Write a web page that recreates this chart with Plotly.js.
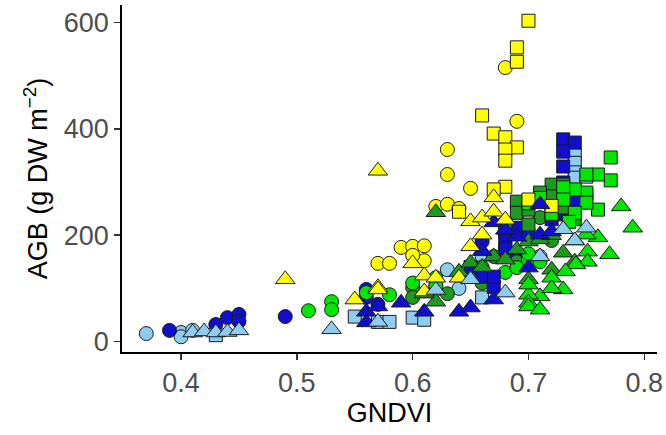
<!DOCTYPE html>
<html>
<head>
<meta charset="utf-8">
<script src="https://cdn.plot.ly/plotly-3.0.1.min.js"></script>
<style>html,body{margin:0;padding:0;background:#fff;}#chart{width:666px;height:435px;}</style>
</head>
<body>
<div id="chart"></div>
<script>
// Yellow group
const yellowCircleX = [0.68,0.69,0.63,0.63,0.65,0.62,0.63,0.59,0.60,0.61,0.61,0.57,0.58,0.60,0.64];
const yellowCircleY = [515,414,361,314,288,254,258,177,179,180,152,147,147,162,250];
const yellowSquareX = [0.70,0.69,0.69,0.66,0.67,0.68,0.69,0.68,0.68,0.68,0.67,0.64,0.70,0.72];
const yellowSquareY = [603,553,526,425,391,384,365,361,340,291,286,244,267,255];
const yellowTriX = [0.49,0.57,0.55,0.57,0.60,0.61,0.61,0.64,0.65,0.65,0.66,0.66,0.67,0.67,0.68,0.57,0.62];
const yellowTriY = [117,321,79,102,147,124,94,120,179,226,233,201,271,244,229,98,120];
// Bright green group
const limeCircleX = [0.51,0.53,0.53,0.58,0.62,0.62,0.68,0.69,0.70,0.56,0.60,0.64,0.66,0.70,0.71];
const limeCircleY = [58,75,60,88,120,104,130,139,154,92,110,125,140,165,150];
const limeSquareX = [0.771,0.771,0.76,0.76,0.75,0.75,0.75,0.74,0.74,0.73,0.73,0.72,0.70,0.71,0.735];
const limeSquareY = [346,303,314,248,314,280,261,286,242,290,267,240,260,270,225];
const limeTriX = [0.78,0.79,0.76,0.77,0.751,0.751,0.741,0.732,0.73,0.75,0.71,0.70,0.70,0.70,0.70,0.72,0.74,0.71,0.72];
const limeTriY = [254,214,196,164,169,150,145,132,98,201,85,88,73,66,107,120,190,60,100];
// Dark green group
const dgreenCircleX = [0.60,0.60,0.63,0.65,0.66,0.68,0.70,0.71,0.72,0.69,0.67,0.62];
const dgreenCircleY = [101,83,90,130,110,175,201,233,190,150,160,105];
const dgreenSquareX = [0.69,0.69,0.70,0.72,0.72,0.73,0.75,0.73,0.74,0.71,0.68,0.70];
const dgreenSquareY = [263,242,248,295,273,252,276,295,230,280,220,220];
const dgreenTriX = [0.62,0.62,0.64,0.65,0.67,0.68,0.69,0.70,0.70,0.72,0.73,0.74,0.71,0.61,0.66,0.72];
const dgreenTriY = [243,75,131,148,160,154,173,188,117,135,167,150,192,90,140,200];
// Blue group
const blueCircleX = [0.39,0.43,0.44,0.45,0.45,0.49,0.56,0.56,0.57,0.66,0.68,0.69];
const blueCircleY = [21,32,45,51,38,47,98,83,70,188,200,160];
const blueSquareX = [0.73,0.74,0.73,0.73,0.73,0.73,0.74,0.68,0.68,0.69,0.66,0.67,0.67,0.725,0.70,0.72,0.68,0.65];
const blueSquareY = [380,374,357,329,299,248,267,192,214,214,122,103,122,239,200,230,175,140];
const blueTriX = [0.56,0.56,0.57,0.59,0.61,0.64,0.65,0.67,0.67,0.69,0.70,0.71,0.71,0.72,0.68,0.66];
const blueTriY = [56,36,66,73,56,56,64,79,224,197,139,258,201,207,210,170];
// Light blue group
const lblueCircleX = [0.37,0.40,0.40,0.41,0.63,0.62,0.66,0.71,0.64];
const lblueCircleY = [15,17,9,21,135,98,160,160,100];
const lblueSquareX = [0.55,0.57,0.58,0.60,0.61,0.66,0.72,0.74,0.74,0.74,0.74,0.75,0.73,0.43];
const lblueSquareY = [47,37,37,45,41,83,252,352,336,318,308,310,270,12];
const lblueTriX = [0.41,0.42,0.43,0.44,0.45,0.53,0.57,0.65,0.68,0.71,0.73,0.75,0.74,0.62];
const lblueTriY = [17,19,17,18,21,23,37,117,92,160,211,214,190,97];

const colors = {yellow:'#FFFF00', lime:'#00E600', dgreen:'#1E9A1E', blue:'#0F0FCD', lblue:'#8ECCF2'};
const groups = [
  ['circle', lblueCircleX, lblueCircleY, colors.lblue],
  ['circle', blueCircleX, blueCircleY, colors.blue],
  ['circle', dgreenCircleX, dgreenCircleY, colors.dgreen],
  ['circle', limeCircleX, limeCircleY, colors.lime],
  ['circle', yellowCircleX, yellowCircleY, colors.yellow],
  ['square', lblueSquareX, lblueSquareY, colors.lblue],
  ['square', blueSquareX, blueSquareY, colors.blue],
  ['square', dgreenSquareX, dgreenSquareY, colors.dgreen],
  ['square', limeSquareX, limeSquareY, colors.lime],
  ['square', yellowSquareX, yellowSquareY, colors.yellow],
  ['triangle-up', dgreenTriX, dgreenTriY, colors.dgreen],
  ['triangle-up', limeTriX, limeTriY, colors.lime],
  ['triangle-up', blueTriX, blueTriY, colors.blue],
  ['triangle-up', yellowTriX, yellowTriY, colors.yellow],
  ['triangle-up', lblueTriX, lblueTriY, colors.lblue]
];
const sizes = {'circle':14, 'square':13, 'triangle-up':17};
const traces = groups.map(g => ({
  type:'scatter', mode:'markers', x:g[1], y:g[2],
  marker:{symbol:g[0], color:g[3], size:sizes[g[0]], line:{color:'#1a1a1a', width:1}},
  hoverinfo:'x+y', showlegend:false
}));

const layout = {
  width:666, height:435,
  margin:{l:122, r:9, t:5, b:83},
  paper_bgcolor:'#fff', plot_bgcolor:'#fff',
  font:{family:'Liberation Sans, Arial, sans-serif'},
  showlegend:false,
  xaxis:{
    range:[0.349,0.811], tickvals:[0.4,0.5,0.6,0.7,0.8], ticktext:['0.4','0.5','0.6','0.7','0.8'],
    showgrid:false, zeroline:false, showline:true, linecolor:'#000', linewidth:1.8,
    ticks:'outside', ticklen:6, tickwidth:1.5, tickcolor:'#333',
    tickfont:{size:27, color:'#4D4D4D'},
    title:{text:'GNDVI', font:{size:27, color:'#000'}, standoff:5}
  },
  yaxis:{
    range:[-19.6,632.6], tickvals:[0,200,400,600], ticktext:['0','200','400','600'],
    showgrid:false, zeroline:false, showline:true, linecolor:'#000', linewidth:1.8,
    ticks:'outside', ticklen:6, tickwidth:1.5, tickcolor:'#333',
    tickfont:{size:27, color:'#4D4D4D'},
    title:{text:'AGB (g DW m<sup>−2</sup>)', font:{size:27, color:'#000'}, standoff:8}
  }
};
Plotly.newPlot('chart', traces, layout, {staticPlot:true, displayModeBar:false});
</script>
</body>
</html>
